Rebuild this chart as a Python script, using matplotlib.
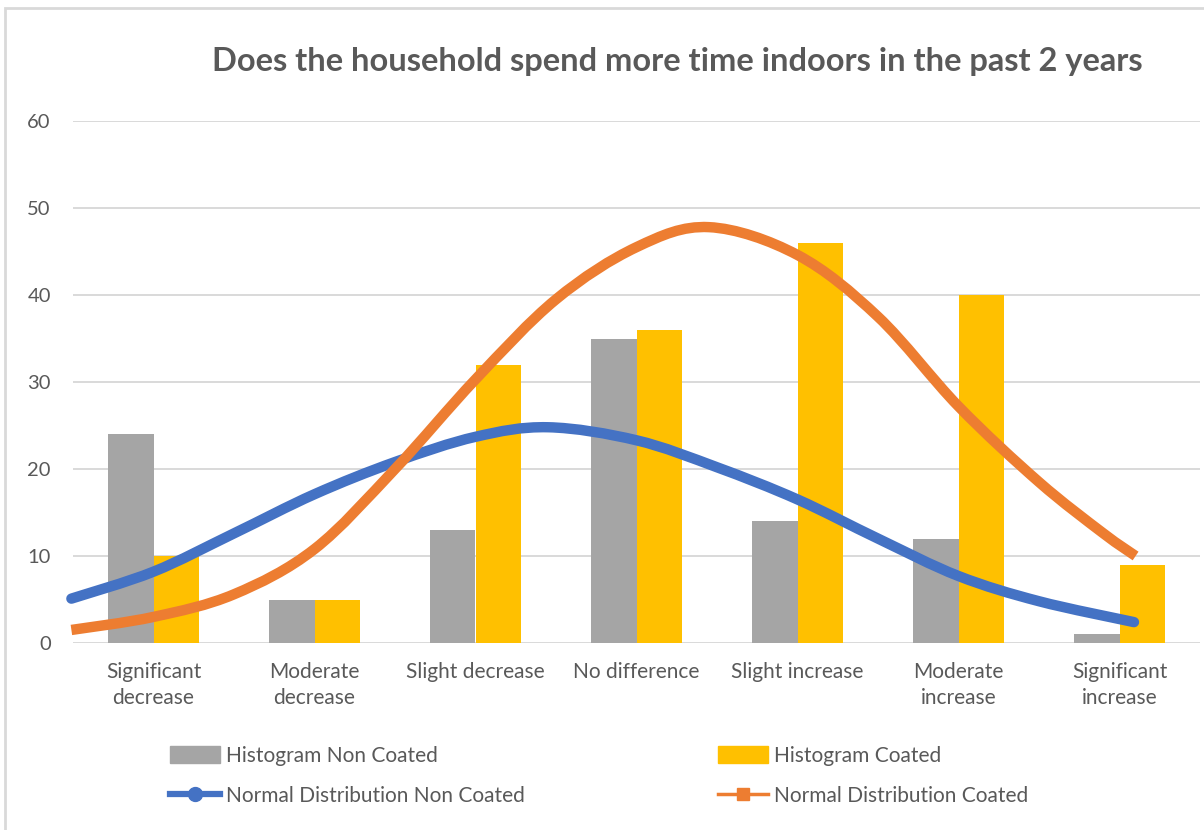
import numpy as np
import matplotlib
matplotlib.use("Agg")
import matplotlib.pyplot as plt
from matplotlib.path import Path
from matplotlib.patches import PathPatch, Patch, Rectangle
from matplotlib.lines import Line2D

# ---- data ----
categories = ["Significant\ndecrease", "Moderate\ndecrease", "Slight decrease",
              "No difference", "Slight increase", "Moderate\nincrease",
              "Significant\nincrease"]
hist_non_coated = [24, 5, 13, 35, 14, 12, 1]
hist_coated = [10, 5, 32, 36, 46, 40, 9]

# fitted normal curves, sampled along the category axis (x in category units)
norm_non_x = [-0.51, 0.0, 0.5, 1.0, 1.5, 2.0, 2.45, 3.0, 3.5, 4.0, 4.5, 5.0, 5.5, 6.09]
norm_non_y = [5.1, 8.2, 12.6, 17.1, 20.8, 23.7, 24.8, 23.3, 20.2, 16.5, 12.0, 7.7, 4.8, 2.4]
norm_coat_x = [-0.51, 0.0, 0.5, 1.0, 1.5, 2.0, 2.5, 3.0, 3.45, 4.0, 4.5, 5.0, 5.5, 5.9, 6.1]
norm_coat_y = [1.5, 3.0, 5.6, 10.8, 20.0, 30.3, 39.5, 45.5, 47.8, 44.6, 37.5, 27.2, 18.5, 12.6, 10.0]

yticks = [0, 10, 20, 30, 40, 50, 60]

GRAY = "#A5A5A5"; GOLD = "#FFC000"; BLUE = "#4472C4"; ORANGE = "#ED7D31"
TXT = "#595959"; GRID = "#D9D9D9"

plt.rcParams["font.family"] = ["Lato", "DejaVu Sans"]


def smooth_path(xs, ys):
    """Catmull-Rom style cubic Bezier through the points (Excel 'smoothed line')."""
    p = np.column_stack([xs, ys]).astype(float)
    ext = np.vstack([p[0], p, p[-1]])
    verts = [p[0]]
    codes = [Path.MOVETO]
    for i in range(len(p) - 1):
        p0, p1, p2, p3 = ext[i], ext[i + 1], ext[i + 2], ext[i + 3]
        c1 = p1 + (p2 - p0) / 6.0
        c2 = p2 - (p3 - p1) / 6.0
        verts += [c1, c2, p2]
        codes += [Path.CURVE4] * 3
    return Path(verts, codes)


fig = plt.figure(figsize=(12.04, 8.30), dpi=100)
ax = fig.add_axes([73 / 1204, 1 - 643 / 830, (1200 - 73) / 1204, (643 - 121) / 830])

x = np.arange(len(categories))
w = 0.285
ax.bar(x - w / 2, hist_non_coated, width=w, color=GRAY, zorder=2)
ax.bar(x + w / 2, hist_coated, width=w, color=GOLD, zorder=2)

ax.add_patch(PathPatch(smooth_path(norm_non_x, norm_non_y), fill=False, edgecolor=BLUE,
                       lw=7.5, capstyle="round", joinstyle="round", zorder=3, clip_on=False))
ax.add_patch(PathPatch(smooth_path(norm_coat_x, norm_coat_y), fill=False, edgecolor=ORANGE,
                       lw=7.5, capstyle="butt", joinstyle="round", zorder=3, clip_on=False))

ax.set_xlim(-0.5, len(categories) - 0.5)
ax.set_ylim(0, 60)
ax.set_yticks(yticks)
ax.set_xticks(x)
ax.set_xticklabels(categories, fontsize=15, color=TXT, linespacing=1.35)
ax.tick_params(axis="both", length=0, colors=TXT)
ax.tick_params(axis="x", pad=14, labelsize=15)
ax.tick_params(axis="y", pad=16, labelsize=14.5)
for s in ax.spines.values():
    s.set_visible(False)
ax.grid(axis="y", color=GRID, lw=1.4)
ax.set_axisbelow(True)

fig.text(677 / 1204, 1 - 62 / 830, "Does the household spend more time indoors in the past 2 years",
         ha="center", va="center", fontsize=23.5, fontweight="bold", color=TXT)

h_bar_non = Patch(color=GRAY)
h_bar_coat = Patch(color=GOLD)
h_line_non = Line2D([], [], color=BLUE, lw=4.5, marker="o", markersize=10)
h_line_coat = Line2D([], [], color=ORANGE, lw=2.5, marker="s", markersize=9)

common = dict(frameon=False, fontsize=15, handlelength=2.4, handleheight=0.85,
              handletextpad=0.3, labelspacing=0.95, labelcolor=TXT, borderaxespad=0,
              borderpad=0)
leg1 = fig.legend([h_bar_non, h_line_non],
                  ["Histogram Non Coated", "Normal Distribution Non Coated"],
                  loc="upper left", bbox_to_anchor=(170 / 1204, 1 - 746 / 830), **common)
leg2 = fig.legend([h_bar_coat, h_line_coat],
                  ["Histogram Coated", "Normal Distribution Coated"],
                  loc="upper left", bbox_to_anchor=(718 / 1204, 1 - 746 / 830), **common)

# chart frame (right and bottom edges fall outside the canvas)
fig.add_artist(Rectangle((5 / 1204, -0.05), 1.2, 1 - 8 / 830 + 0.05, transform=fig.transFigure,
                         fill=False, edgecolor=GRID, lw=2))

fig.savefig("out.png", dpi=100, facecolor="white")
